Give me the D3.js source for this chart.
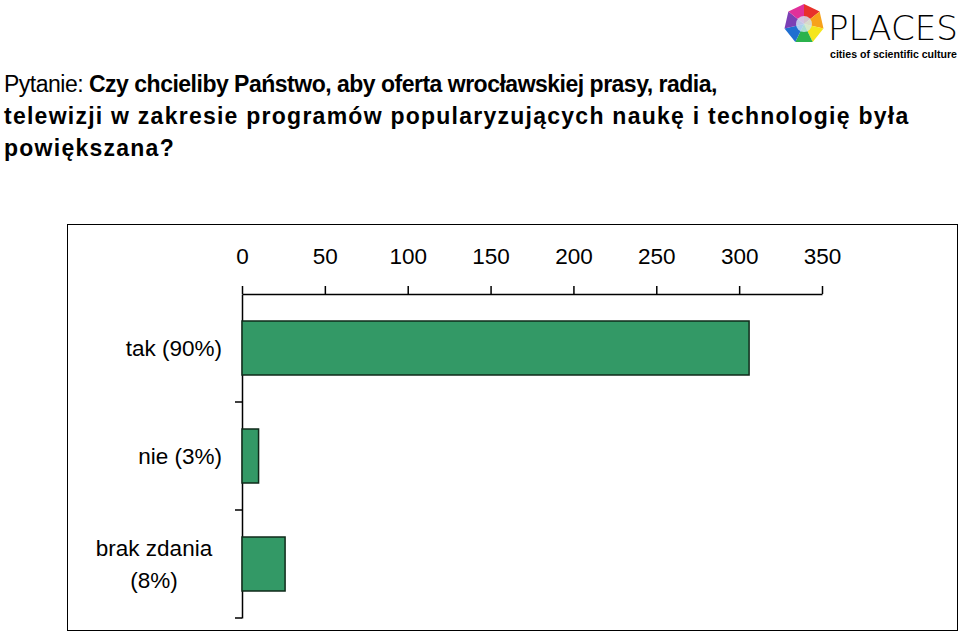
<!DOCTYPE html>
<html><head><meta charset="utf-8">
<script src="https://cdn.jsdelivr.net/npm/d3@7"></script>
<style>body{margin:0;background:#fff}svg{font-family:"Liberation Sans",Arial,sans-serif}</style>
</head><body><svg id="c" width="960" height="632"></svg>
<script>
var categories = [["tak (90%)"], ["nie (3%)"], ["brak zdania", "(8%)"]];
var values = [306, 10, 26];
var ticks = [0, 50, 100, 150, 200, 250, 300, 350];

var svg = d3.select("#c");

// title
var title = svg.append("text").attr("font-size", 23).attr("fill", "#000");
var t1 = title.append("tspan").attr("x", 4).attr("y", 92).attr("letter-spacing", -0.5);
t1.append("tspan").text("Pytanie: ");
t1.append("tspan").attr("font-weight", "bold").text("Czy chcieliby Państwo, aby oferta wrocławskiej prasy, radia,");
title.append("tspan").attr("x", 4).attr("y", 124).attr("font-weight", "bold").attr("letter-spacing", 1.25)
  .text("telewizji w zakresie programów popularyzujących naukę i technologię była");
title.append("tspan").attr("x", 4).attr("y", 156).attr("font-weight", "bold").attr("letter-spacing", 1.25).text("powiększana?");

// logo
var logo = svg.append("g").attr("transform", "translate(804,24)");
var cols = ["#e8312a", "#f7a21b", "#f5e61b", "#2bb24c", "#1f6fd1", "#7b3fb5", "#e0309a"];
cols.forEach(function(c, i){
  var a0 = (i / 7) * 2 * Math.PI, a1 = ((i + 1) / 7) * 2 * Math.PI;
  logo.append("path").attr("fill", c)
    .attr("d", "M0,0L" + 20 * Math.sin(a0) + "," + -20 * Math.cos(a0) + "L" + 20 * Math.sin(a1) + "," + -20 * Math.cos(a1) + "Z");
});
logo.append("circle").attr("r", 8).attr("fill", "#cfe8f5").attr("opacity", 0.8);
svg.append("text").attr("x", 828).attr("y", 40).attr("font-size", 34).attr("font-weight", 300)
  .attr("font-family", "DejaVu Sans").attr("textLength", 130).attr("lengthAdjust", "spacingAndGlyphs").text("PLACES");
svg.append("text").attr("x", 830).attr("y", 58).attr("font-size", 10.5).attr("font-weight", "bold")
  .attr("textLength", 127).attr("lengthAdjust", "spacingAndGlyphs").text("cities of scientific culture");

// frame
svg.append("rect").attr("x", 67.5).attr("y", 224.5).attr("width", 890).attr("height", 406)
  .attr("fill", "none").attr("stroke", "#000");

var x = d3.scaleLinear().domain([0, 350]).range([242, 822]);
var y = d3.scaleBand().domain(d3.range(categories.length)).range([294, 618]).paddingInner(0.5).paddingOuter(0.25);

var xAxis = svg.append("g").attr("transform", "translate(0,294)")
  .call(d3.axisTop(x).tickValues(ticks).tickSize(8).tickPadding(22).tickSizeOuter(0));
xAxis.selectAll("text").attr("font-size", 22.5).attr("fill", "#000").attr("font-family", "Liberation Sans, Arial");
xAxis.selectAll("line,path").attr("stroke", "#000").attr("stroke-width", 1.5);

var yAxis = svg.append("g").attr("transform", "translate(242,0)")
  .call(d3.axisLeft(y).tickValues([]).tickSizeOuter(0));
yAxis.select("path").attr("stroke", "#000").attr("stroke-width", 1.5);
// category separators on the left axis
var sep = [1, 2, 3].map(function(i){ return 294 + i * y.step(); });
svg.selectAll(".sep").data(sep).enter().append("line")
  .attr("x1", 235).attr("x2", 242).attr("y1", function(d){ return d; }).attr("y2", function(d){ return d; })
  .attr("stroke", "#000").attr("stroke-width", 1.5);

svg.selectAll(".bar").data(values).enter().append("rect")
  .attr("x", x(0)).attr("y", function(d, i){ return y(i); })
  .attr("width", function(d){ return x(d) - x(0); }).attr("height", y.bandwidth())
  .attr("fill", "#339966").attr("stroke", "#0f2a1a").attr("stroke-width", 1.5);

categories.forEach(function(lines, i){
  var cy = y(i) + y.bandwidth() / 2;
  var multi = lines.length > 1;
  var t = svg.append("text").attr("text-anchor", multi ? "middle" : "end").attr("font-size", 22.5);
  lines.forEach(function(l, j){
    t.append("tspan").attr("x", multi ? 154 : 222).attr("y", cy + 8 + (j - (lines.length - 1) / 2) * 32).text(l);
  });
});
</script></body></html>
